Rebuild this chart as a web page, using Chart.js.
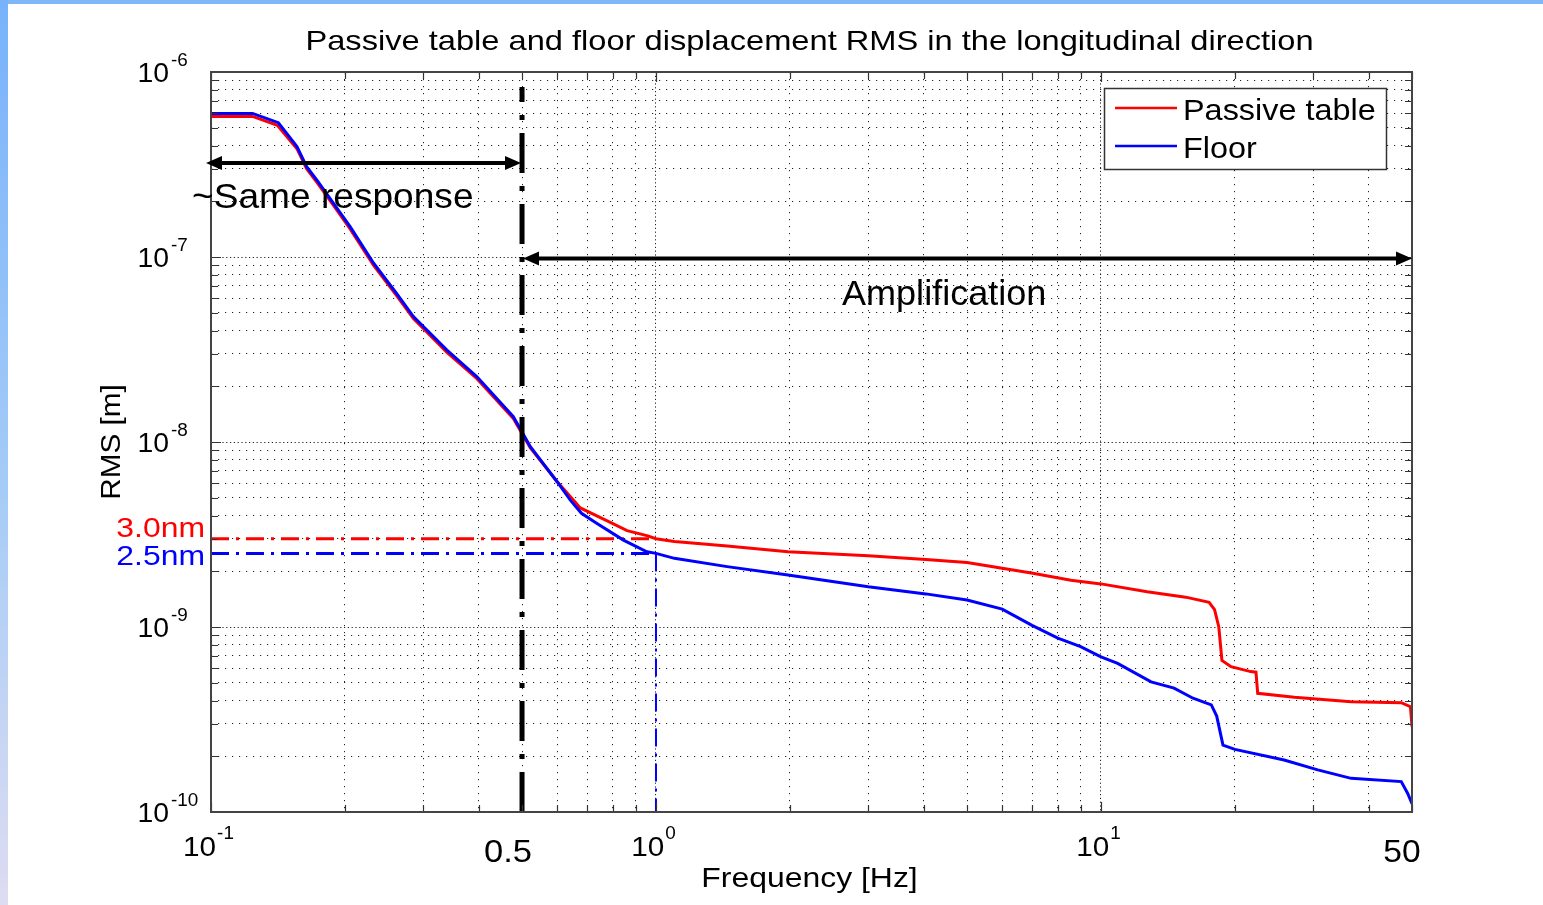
<!DOCTYPE html>
<html>
<head>
<meta charset="utf-8">
<title>Passive table and floor displacement RMS</title>
<script src="https://cdn.jsdelivr.net/npm/chart.js@4.4.1/dist/chart.umd.min.js"></script>
<style>
  html, body { margin: 0; padding: 0; background: #fff; overflow: hidden; }
  #wrap { position: relative; width: 1543px; height: 905px; }
  #wrap canvas { position: absolute; left: 0; top: 0; }
  #edgeTop { position: absolute; left: 0; top: 0; width: 1543px; height: 4px; background: #7fb6fa; }
  #edgeLeft { position: absolute; left: 0; top: 0; width: 8px; height: 905px;
              background: linear-gradient(#78b2fb 0%, #a6ccf6 55%, #dedcf2 100%); }
</style>
</head>
<body>
<div id="wrap">
  <canvas id="rms" width="1543" height="905"></canvas>
  <div id="edgeTop"></div>
  <div id="edgeLeft"></div>
</div>
<script>
// Cumulative displacement RMS vs frequency [Hz -> m]
const tableFreq = [0.1, 0.124, 0.141, 0.156, 0.164, 0.173, 0.1885, 0.2054, 0.232, 0.261,
  0.285, 0.339, 0.396, 0.478, 0.522, 0.6, 0.676, 0.777, 0.861, 0.954,
  1.0, 1.1, 1.445, 1.98, 3.0, 4.04, 5.0, 6.0, 7.03, 8.56,
  10.0, 12.7, 15.5, 17.5, 18.0, 18.4, 18.7, 19.6, 21.7, 22.3,
  22.5, 27.2, 36.5, 47.3, 49.6, 50];
const tableRms = [5.75e-7, 5.75e-7, 5.15e-7, 3.85e-7, 3.0e-7, 2.53e-7, 1.9e-7, 1.42e-7, 9.0e-8, 6.2e-8,
  4.65e-8, 3.05e-8, 2.2e-8, 1.34e-8, 9.3e-9, 6.1e-9, 4.4e-9, 3.75e-9, 3.32e-9, 3.12e-9,
  3.0e-9, 2.9e-9, 2.74e-9, 2.55e-9, 2.43e-9, 2.32e-9, 2.23e-9, 2.08e-9, 1.95e-9, 1.79e-9,
  1.71e-9, 1.55e-9, 1.45e-9, 1.36e-9, 1.24e-9, 1.0e-9, 6.6e-10, 6.1e-10, 5.74e-10, 5.7e-10,
  4.38e-10, 4.17e-10, 3.95e-10, 3.9e-10, 3.71e-10, 2.89e-10];

const floorFreq = [0.1, 0.124, 0.1417, 0.156, 0.164, 0.173, 0.1885, 0.2054, 0.232, 0.261,
  0.285, 0.339, 0.396, 0.478, 0.522, 0.6, 0.642, 0.68, 0.737, 0.845,
  0.954, 1.0, 1.1, 1.445, 1.98, 3.0, 4.04, 5.0, 6.0, 7.0,
  8.0, 9.0, 10.0, 10.9, 12.96, 14.6, 16.1, 17.7, 18.2, 18.8,
  20, 25.8, 30.7, 36.5, 47.3, 48.9, 50];
const floorRms = [5.97e-7, 5.97e-7, 5.32e-7, 3.95e-7, 3.08e-7, 2.6e-7, 1.95e-7, 1.46e-7, 9.25e-8, 6.37e-8,
  4.76e-8, 3.14e-8, 2.25e-8, 1.37e-8, 9.44e-9, 6.08e-9, 4.85e-9, 4.12e-9, 3.63e-9, 2.95e-9,
  2.55e-9, 2.5e-9, 2.35e-9, 2.12e-9, 1.91e-9, 1.65e-9, 1.51e-9, 1.4e-9, 1.25e-9, 1.02e-9,
  8.7e-10, 7.83e-10, 6.9e-10, 6.36e-10, 5.05e-10, 4.67e-10, 4.12e-10, 3.79e-10, 3.3e-10, 2.3e-10,
  2.18e-10, 1.91e-10, 1.69e-10, 1.52e-10, 1.46e-10, 1.26e-10, 1.11e-10];

const seriesNames = ['Passive table', 'Floor'];

// Read-off levels at 1 Hz and the band split
const levelLabels = ['3.0nm', '2.5nm'];
const levelRms = [3.0e-9, 2.5e-9];
const readFreq = 1;
const splitFreq = 0.5;

// Axis range and labels
const freqRange = [0.1, 50];
const rmsRange = [1e-10, 1e-6];
const xPowerTicks = [-1, 0, 1];
const xPlainTicks = [0.5, 50];
const yPowerTicks = [-10, -9, -8, -7, -6];

const bandLabels = ['~Same response', 'Amplification'];

// grid positions: 1..9 in every decade
function decadeGrid(lo, hi) {
  const out = [];
  for (let e = Math.floor(Math.log10(lo) + 1e-9); e <= Math.ceil(Math.log10(hi)); e++) {
    for (let k = 1; k <= 9; k++) {
      const v = parseFloat((k * Math.pow(10, e)).toPrecision(6));
      if (v >= lo * 0.9999 && v <= hi * 1.0001) out.push(v);
    }
  }
  return out;
}
const isDecade = v => Math.abs(Math.log10(v) - Math.round(Math.log10(v))) < 1e-6;

const FONT = '"Liberation Sans", Arial, Helvetica, sans-serif';

function drawText(ctx, s, x, y, size, color, align, stretch) {
  ctx.save();
  ctx.font = size + 'px ' + FONT;
  ctx.fillStyle = color;
  ctx.textAlign = 'left';
  ctx.textBaseline = 'alphabetic';
  const w = ctx.measureText(s).width * stretch;
  const left = align === 'center' ? x - w / 2 : align === 'right' ? x - w : x;
  ctx.translate(left, y);
  ctx.scale(stretch, 1);
  ctx.fillText(s, 0, 0);
  ctx.restore();
  return w;
}
function textWidth(ctx, s, size, stretch) {
  ctx.save();
  ctx.font = size + 'px ' + FONT;
  const w = ctx.measureText(s).width * stretch;
  ctx.restore();
  return w;
}
function arrow(ctx, x1, x2, y) {
  const head = 16, half = 7;
  ctx.save();
  ctx.strokeStyle = '#000';
  ctx.fillStyle = '#000';
  ctx.lineWidth = 4;
  ctx.beginPath();
  ctx.moveTo(x1 + head - 2, y);
  ctx.lineTo(x2 - head + 2, y);
  ctx.stroke();
  ctx.beginPath();
  ctx.moveTo(x1, y); ctx.lineTo(x1 + head, y - half); ctx.lineTo(x1 + head, y + half); ctx.closePath();
  ctx.fill();
  ctx.beginPath();
  ctx.moveTo(x2, y); ctx.lineTo(x2 - head, y - half); ctx.lineTo(x2 - head, y + half); ctx.closePath();
  ctx.fill();
  ctx.restore();
}

const decorations = {
  id: 'decorations',
  afterDatasetsDraw(chart) {
    const { ctx, chartArea: a, scales: { x, y } } = chart;
    ctx.save();
    // inward tick marks on all four sides
    ctx.strokeStyle = '#333';
    ctx.lineWidth = 1.2;
    decadeGrid(freqRange[0], freqRange[1]).forEach(v => {
      const px = Math.round(x.getPixelForValue(v)) + 0.5;
      const len = isDecade(v) ? 10 : 7;
      ctx.beginPath();
      ctx.moveTo(px, a.bottom); ctx.lineTo(px, a.bottom - len);
      ctx.moveTo(px, a.top); ctx.lineTo(px, a.top + len);
      ctx.stroke();
    });
    decadeGrid(rmsRange[0], rmsRange[1]).forEach(v => {
      const py = Math.round(y.getPixelForValue(v)) + 0.5;
      const len = isDecade(v) ? 10 : 7;
      ctx.beginPath();
      ctx.moveTo(a.left, py); ctx.lineTo(a.left + len, py);
      ctx.moveTo(a.right, py); ctx.lineTo(a.right - len, py);
      ctx.stroke();
    });
    // axes box
    ctx.strokeStyle = '#444';
    ctx.lineWidth = 2;
    ctx.strokeRect(a.left, a.top, a.right - a.left, a.bottom - a.top);
    ctx.restore();

    // band arrows
    const xs = x.getPixelForValue(freqRange[0]);
    const xm = x.getPixelForValue(splitFreq);
    const xe = x.getPixelForValue(freqRange[1]);
    arrow(ctx, xs - 5, xm - 1, y.getPixelForValue(3.22e-7));
    arrow(ctx, xm + 1, xe, y.getPixelForValue(9.8e-8));
  },
  afterDraw(chart) {
    const { ctx, chartArea: a, scales: { x, y } } = chart;

    // title
    drawText(ctx, 'Passive table and floor displacement RMS in the longitudinal direction',
      (a.left + a.right) / 2 - 2, 50, 28, '#000', 'center', 1.165);

    // y tick labels 10^n
    yPowerTicks.forEach(e => {
      const py = y.getPixelForValue(Math.pow(10, e));
      drawText(ctx, '10', 169, py + 10, 27, '#000', 'right', 1.05);
      drawText(ctx, String(e), 171, py - 6, 18, '#000', 'left', 1.05);
    });
    // x tick labels 10^n
    xPowerTicks.forEach(e => {
      const px = x.getPixelForValue(Math.pow(10, e));
      const wb = textWidth(ctx, '10', 27, 1.1);
      const we = textWidth(ctx, String(e), 18, 1.05);
      const left = px - (wb + we) / 2 - 3;
      drawText(ctx, '10', left, 856, 27, '#000', 'left', 1.1);
      drawText(ctx, String(e), left + wb + 1, 839, 18, '#000', 'left', 1.05);
    });
    // plain x labels
    drawText(ctx, '0.5', x.getPixelForValue(xPlainTicks[0]) - 14, 862, 32, '#000', 'center', 1.08);
    drawText(ctx, '50', x.getPixelForValue(xPlainTicks[1]) - 10, 862, 32, '#000', 'center', 1.05);

    // axis titles
    drawText(ctx, 'Frequency [Hz]', (a.left + a.right) / 2 - 2, 887, 28, '#000', 'center', 1.14);
    ctx.save();
    ctx.translate(120, 442);
    ctx.rotate(-Math.PI / 2);
    drawText(ctx, 'RMS [m]', 0, 0, 27, '#000', 'center', 1.1);
    ctx.restore();

    // level labels
    const colors = ['#ff0000', '#0000ff'];
    levelLabels.forEach((t, i) => {
      const py = y.getPixelForValue(levelRms[i]);
      drawText(ctx, t, a.left - 6, py + (i === 0 ? -2 : 12), 28, colors[i], 'right', 1.14);
    });

    // band labels
    drawText(ctx, bandLabels[0], 192, 208, 35, '#000', 'left', 1.06);
    drawText(ctx, bandLabels[1], 842, 305, 35, '#000', 'left', 1.03);

    // legend
    ctx.save();
    ctx.fillStyle = '#fff';
    ctx.fillRect(1104, 88, 283, 82);
    ctx.strokeStyle = '#333';
    ctx.lineWidth = 1.5;
    ctx.strokeRect(1104.5, 88.5, 282, 81);
    const ds = chart.data.datasets;
    [0, 1].forEach(i => {
      const ly = 108 + i * 38;
      ctx.strokeStyle = ds[i].borderColor;
      ctx.lineWidth = 2.5;
      ctx.beginPath();
      ctx.moveTo(1115, ly); ctx.lineTo(1177, ly);
      ctx.stroke();
      drawText(ctx, ds[i].label, 1183, ly + 12, 30, '#000', 'left', 1.08);
    });
    ctx.restore();
  }
};

const pts = (fx, fy) => fx.map((f, i) => ({ x: f, y: fy[i] }));

const gridColor = '#222';
function axisCfg(range) {
  const grid = decadeGrid(range[0], range[1]);
  return {
    type: 'logarithmic',
    min: range[0],
    max: range[1],
    afterBuildTicks: s => { s.ticks = grid.map(v => ({ value: v, major: isDecade(v) })); },
    ticks: { display: false },
    grid: {
      drawTicks: false,
      color: gridColor,
      lineWidth: 1
    },
    border: {
      display: false,
      dash: c => (c.tick && c.tick.major ? [1.2, 2.6] : [1.2, 5.8])
    }
  };
}

new Chart(document.getElementById('rms'), {
  type: 'line',
  data: {
    datasets: [
      { label: seriesNames[0], data: pts(tableFreq, tableRms), borderColor: '#ff0000',
        borderWidth: 3, pointRadius: 0, tension: 0, order: 3 },
      { label: seriesNames[1], data: pts(floorFreq, floorRms), borderColor: '#0000ff',
        borderWidth: 3, pointRadius: 0, tension: 0, order: 2 },
      { label: levelLabels[0], data: [{ x: freqRange[0], y: levelRms[0] }, { x: readFreq, y: levelRms[0] }],
        borderColor: '#ff0000', borderWidth: 3, borderDash: [18, 7, 3, 7], pointRadius: 0, order: 5 },
      { label: levelLabels[1], data: [{ x: freqRange[0], y: levelRms[1] }, { x: readFreq, y: levelRms[1] }],
        borderColor: '#0000ff', borderWidth: 3, borderDash: [18, 7, 3, 7], pointRadius: 0, order: 5 },
      { label: 'read-off', data: [{ x: readFreq, y: levelRms[1] }, { x: readFreq, y: rmsRange[0] }],
        borderColor: '#0000ff', borderWidth: 2, borderDash: [18, 7, 3, 7], pointRadius: 0, order: 5 },
      { label: 'split', data: [{ x: splitFreq, y: rmsRange[0] }, { x: splitFreq, y: 8.3e-7 }],
        borderColor: '#000', borderWidth: 5, borderDash: [40, 13, 5, 13], pointRadius: 0, order: 1 }
    ]
  },
  options: {
    responsive: false,
    animation: false,
    devicePixelRatio: 1,
    parsing: true,
    layout: { padding: { left: 211, right: 131, top: 72, bottom: 93 } },
    plugins: { legend: { display: false }, tooltip: { enabled: false }, title: { display: false } },
    scales: { x: axisCfg(freqRange), y: axisCfg(rmsRange) }
  },
  plugins: [decorations]
});
</script>
</body>
</html>
